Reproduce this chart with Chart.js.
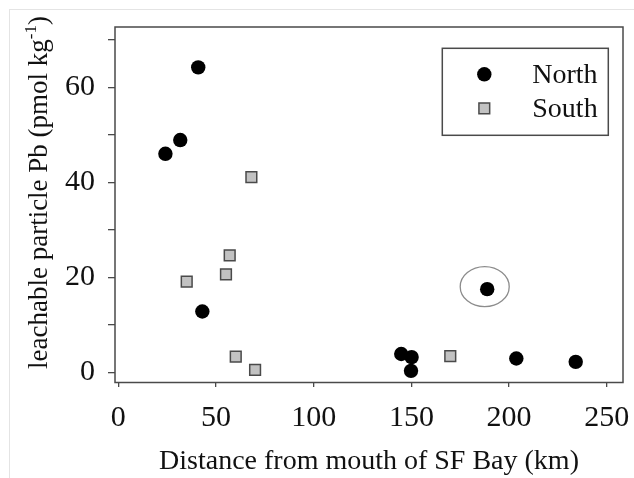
<!DOCTYPE html>
<html>
<head>
<meta charset="utf-8">
<title>Leachable particle Pb vs distance</title>
<script src="https://cdn.jsdelivr.net/npm/chart.js@4.4.0/dist/chart.umd.min.js"></script>
<style>
  html, body { margin: 0; padding: 0; background: #fff; }
  #wrap { position: relative; width: 634px; height: 478px; }
  #frame { position: absolute; left: 9px; top: 9px; right: 0; bottom: 0;
           border-left: 1px solid #e4e4e4; border-top: 1px solid #e4e4e4; pointer-events: none; }
</style>
</head>
<body>
<div id="wrap">
  <canvas id="pbChart" width="634" height="478"></canvas>
  <div id="frame"></div>
</div>
<script>
// Distance from the bay mouth (km) and leachable particle Pb (pmol/kg)
const northKm = [24.1, 31.7, 40.9, 43.0, 144.8, 150.1, 149.8, 188.8, 203.7, 234.1];
const northPb = [46.0, 48.9, 64.2, 12.8, 3.85, 3.2, 0.3, 17.5, 2.9, 2.2];
const southKm = [35.0, 55.1, 57.0, 68.1, 60.1, 70.0, 169.9];
const southPb = [19.1, 20.6, 24.6, 41.1, 3.3, 0.5, 3.4];

const xTicks = [0, 50, 100, 150, 200, 250];
const yTicks = [0, 10, 20, 30, 40, 50, 60, 70];
const yLabelled = [0, 20, 40, 60];

const xTitle = 'Distance from mouth of SF Bay (km)';
const yTitleMain = 'leachable particle Pb (pmol kg';
const yTitleSup = '-1';
const yTitleEnd = ')';

// North station at 189 km gets a ring around it
const ringed = { dataset: 0, index: 7 };

const serif = '"Liberation Serif", "Times New Roman", serif';
const ink = '#111';
const frameColor = '#4a4a4a';

function toPoints(xs, ys) {
    return xs.map((x, i) => ({ x: x, y: ys[i] }));
}

function drawMarker(ctx, ds, x, y) {
    const r = ds.pointRadius;
    ctx.save();
    ctx.fillStyle = ds.backgroundColor;
    ctx.strokeStyle = ds.borderColor;
    ctx.lineWidth = ds.borderWidth;
    ctx.beginPath();
    if (ds.pointStyle === 'rect') {
        const s = Math.SQRT1_2 * r;
        ctx.rect(x - s, y - s, 2 * s, 2 * s);
    } else {
        ctx.arc(x, y, r, 0, Math.PI * 2);
    }
    ctx.fill();
    if (ds.borderWidth > 0) ctx.stroke();
    ctx.restore();
}

// keep the plot area fixed: no extra room for overhanging tick labels
function noEdgePadding(s) {
    s.paddingLeft = 0;
    s.paddingRight = 0;
    s.paddingTop = 0;
    s.paddingBottom = 0;
}

// closed box round the plotting area
const plotBox = {
    id: 'plotBox',
    beforeDatasetsDraw(chart) {
        const a = chart.chartArea;
        const ctx = chart.ctx;
        ctx.save();
        ctx.strokeStyle = frameColor;
        ctx.lineWidth = 1.5;
        ctx.strokeRect(a.left, a.top, a.right - a.left, a.bottom - a.top);
        ctx.restore();
    }
};

// ellipse drawn round one point
const ringPlugin = {
    id: 'ring',
    afterDatasetsDraw(chart) {
        const el = chart.getDatasetMeta(ringed.dataset).data[ringed.index];
        if (!el) return;
        const ctx = chart.ctx;
        ctx.save();
        ctx.strokeStyle = '#8c8c8c';
        ctx.lineWidth = 1.3;
        ctx.beginPath();
        ctx.ellipse(el.x - 2.5, el.y - 2.5, 24.5, 20, 0, 0, Math.PI * 2);
        ctx.stroke();
        ctx.restore();
    }
};

// boxed legend in the upper right corner of the plot
const boxLegend = {
    id: 'boxLegend',
    afterDraw(chart) {
        const a = chart.chartArea;
        const ctx = chart.ctx;
        const w = 166, h = 87;
        const left = a.right - 14.7 - w;
        const top = a.top + 21.3;
        ctx.save();
        ctx.strokeStyle = frameColor;
        ctx.lineWidth = 1.5;
        ctx.strokeRect(left, top, w, h);
        ctx.font = '28px ' + serif;
        ctx.fillStyle = ink;
        ctx.textBaseline = 'middle';
        ctx.textAlign = 'left';
        chart.data.datasets.forEach((ds, i) => {
            const y = top + 26 + i * 34;
            drawMarker(ctx, ds, left + 42, y);
            ctx.fillText(ds.label, left + 90, y + 1);
        });
        ctx.restore();
    }
};

// rotated y title with a superscript exponent
const yTitlePlugin = {
    id: 'yTitle',
    afterDraw(chart) {
        const ctx = chart.ctx;
        const big = '27px ' + serif;
        const small = '17px ' + serif;
        ctx.save();
        ctx.font = big;
        const w1 = ctx.measureText(yTitleMain).width;
        const w3 = ctx.measureText(yTitleEnd).width;
        ctx.font = small;
        const w2 = ctx.measureText(yTitleSup).width;
        const total = w1 + w2 + w3;
        ctx.translate(47, 192.5);
        ctx.rotate(-Math.PI / 2);
        ctx.fillStyle = ink;
        ctx.textBaseline = 'alphabetic';
        ctx.textAlign = 'left';
        let x = -total / 2;
        ctx.font = big;
        ctx.fillText(yTitleMain, x, 0);
        x += w1;
        ctx.font = small;
        ctx.fillText(yTitleSup, x, -11);
        x += w2;
        ctx.font = big;
        ctx.fillText(yTitleEnd, x, 0);
        ctx.restore();
    }
};

const ctx = document.getElementById('pbChart').getContext('2d');
new Chart(ctx, {
    type: 'scatter',
    data: {
        datasets: [{
            label: 'North',
            data: toPoints(northKm, northPb),
            pointStyle: 'circle',
            pointRadius: 7.2,
            pointHoverRadius: 7.2,
            backgroundColor: '#000',
            borderColor: '#000',
            borderWidth: 0
        }, {
            label: 'South',
            data: toPoints(southKm, southPb),
            pointStyle: 'rect',
            pointRadius: 7.6,
            pointHoverRadius: 7.6,
            backgroundColor: '#c2c2c2',
            borderColor: '#4a4a4a',
            borderWidth: 1.5
        }]
    },
    options: {
        responsive: false,
        animation: false,
        events: [],
        layout: { padding: { top: 27, right: 11, left: 0, bottom: 0 } },
        plugins: {
            legend: { display: false },
            tooltip: { enabled: false }
        },
        scales: {
            x: {
                type: 'linear',
                position: 'bottom',
                min: -1.7,
                max: 258.3,
                afterBuildTicks: s => { s.ticks = xTicks.map(v => ({ value: v })); },
                afterFit: s => { s.height = 95.5; noEdgePadding(s); },
                grid: { drawOnChartArea: false, drawTicks: true, tickLength: 4.5, color: frameColor, lineWidth: 1.3 },
                border: { display: false },
                ticks: { color: ink, font: { family: serif, size: 30 }, padding: 13, maxRotation: 0, autoSkip: false },
                title: { display: true, text: xTitle, color: ink, font: { family: serif, size: 28 }, padding: 0 }
            },
            y: {
                type: 'linear',
                position: 'left',
                min: -2.15,
                max: 72.7,
                afterBuildTicks: s => { s.ticks = yTicks.map(v => ({ value: v })); },
                afterFit: s => { s.width = 115; noEdgePadding(s); },
                grid: { drawOnChartArea: false, drawTicks: true, tickLength: 7, color: frameColor, lineWidth: 1.3 },
                border: { display: false },
                ticks: {
                    color: ink,
                    font: { family: serif, size: 30 },
                    padding: 13,
                    autoSkip: false,
                    callback: v => yLabelled.includes(v) ? String(v) : ''
                }
            }
        }
    },
    plugins: [plotBox, ringPlugin, boxLegend, yTitlePlugin]
});
</script>
</body>
</html>
